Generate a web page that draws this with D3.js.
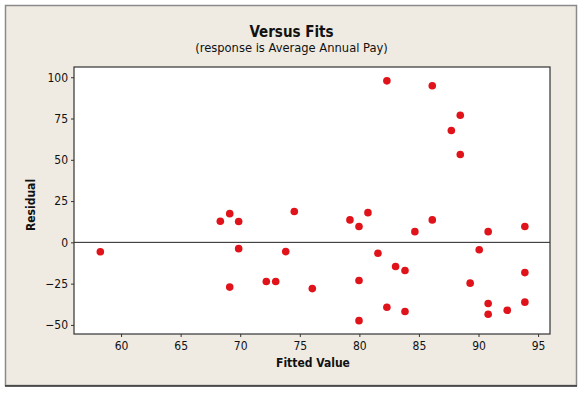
<!DOCTYPE html>
<html>
<head>
<meta charset="utf-8">
<title>Versus Fits</title>
<style>
body{margin:0;background:#fff;}
svg{display:block;}
text{font-family:"DejaVu Sans Condensed","DejaVu Sans",sans-serif;fill:#111;}
.axis path{display:none;}
.axis line{stroke:#333;}
.axis text{font-size:12px;}
</style>
</head>
<body>
<div id="chart"></div>
<script src="https://d3js.org/d3.v7.min.js"></script>
<script>

// fitted values vs residuals
var fitted = [58.26, 68.33, 69.12, 69.87, 74.54, 69.87, 73.82, 69.12, 72.19, 72.98,
              76.05, 82.31, 86.12, 88.47, 87.72, 88.47, 80.72, 79.21, 79.97, 84.66,
              86.12, 90.81, 93.89, 81.56, 90.06, 83.04, 83.83, 79.97, 89.30, 93.89,
              82.31, 83.83, 79.97, 90.81, 90.81, 92.41, 93.89];
var residual = [-5.7, 12.8, 17.4, 12.6, 18.7, -3.8, -5.6, -27.1, -23.7, -23.7,
                -28.0, 97.8, 94.8, 77.0, 67.7, 53.2, 18.0, 13.6, 9.6, 6.5,
                13.6, 6.5, 9.6, -6.6, -4.5, -14.6, -17.0, -23.1, -24.7, -18.3,
                -39.3, -41.9, -47.4, -37.0, -43.5, -41.1, -36.2];
var xTicks = [60, 65, 70, 75, 80, 85, 90, 95];
var yTicks = [-50, -25, 0, 25, 50, 75, 100];

var W = 584, H = 393,
    margin = {top:67, right:34, bottom:59, left:74},
    width = W - margin.left - margin.right,
    height = H - margin.top - margin.bottom;

var svg = d3.select("#chart").append("svg")
    .attr("width", W)
    .attr("height", H);

// outer panel
svg.append("rect")
    .attr("x", 5.5).attr("y", 5.5)
    .attr("width", 571).attr("height", 380)
    .attr("fill", "#efebe3")
    .attr("stroke", "#8a8a8a")
    .attr("stroke-width", 1.5);
svg.append("line")
    .attr("x1", 5).attr("x2", 577)
    .attr("y1", 386).attr("y2", 386)
    .attr("stroke", "#333").attr("stroke-width", 1.5);

var x = d3.scaleLinear().domain([56.05, 96]).range([0, width]);
var y = d3.scaleLinear().domain([-55.5, 106.2]).range([height, 0]);

var g = svg.append("g")
    .attr("transform", "translate(" + margin.left + "," + margin.top + ")");

g.append("rect")
    .attr("width", width).attr("height", height)
    .attr("fill", "#fff");

g.append("g")
    .attr("class", "axis")
    .attr("transform", "translate(0," + height + ")")
    .call(d3.axisBottom(x).tickValues(xTicks).tickSize(3).tickPadding(4));

g.append("g")
    .attr("class", "axis")
    .call(d3.axisLeft(y).tickValues(yTicks).tickSize(3).tickPadding(3));

// reference line at zero
g.append("line")
    .attr("x1", 0).attr("x2", width)
    .attr("y1", y(0)).attr("y2", y(0))
    .attr("stroke", "#222").attr("stroke-width", 1);

g.append("rect")
    .attr("width", width).attr("height", height)
    .attr("fill", "none")
    .attr("stroke", "#333").attr("stroke-width", 1.2);

g.selectAll(".dot")
    .data(fitted)
    .enter()
    .append("circle")
    .attr("class", "dot")
    .attr("cx", function(d){ return x(d); })
    .attr("cy", function(d, i){ return y(residual[i]); })
    .attr("r", 3.8)
    .attr("fill", "#e0131a");

// titles, centred on the panel
svg.append("text")
    .attr("x", 291.5).attr("y", 37)
    .attr("text-anchor", "middle")
    .style("font-size", "15px").style("font-weight", "bold")
    .text("Versus Fits");
svg.append("text")
    .attr("x", 291.5).attr("y", 52)
    .attr("text-anchor", "middle")
    .style("font-size", "12.8px")
    .text("(response is Average Annual Pay)");

svg.append("text")
    .attr("x", 313).attr("y", 367)
    .attr("text-anchor", "middle")
    .style("font-size", "12px").style("font-weight", "bold")
    .text("Fitted Value");
svg.append("text")
    .attr("transform", "translate(35,205) rotate(-90)")
    .attr("text-anchor", "middle")
    .style("font-size", "12px").style("font-weight", "bold")
    .text("Residual");

</script>
</body>
</html>
